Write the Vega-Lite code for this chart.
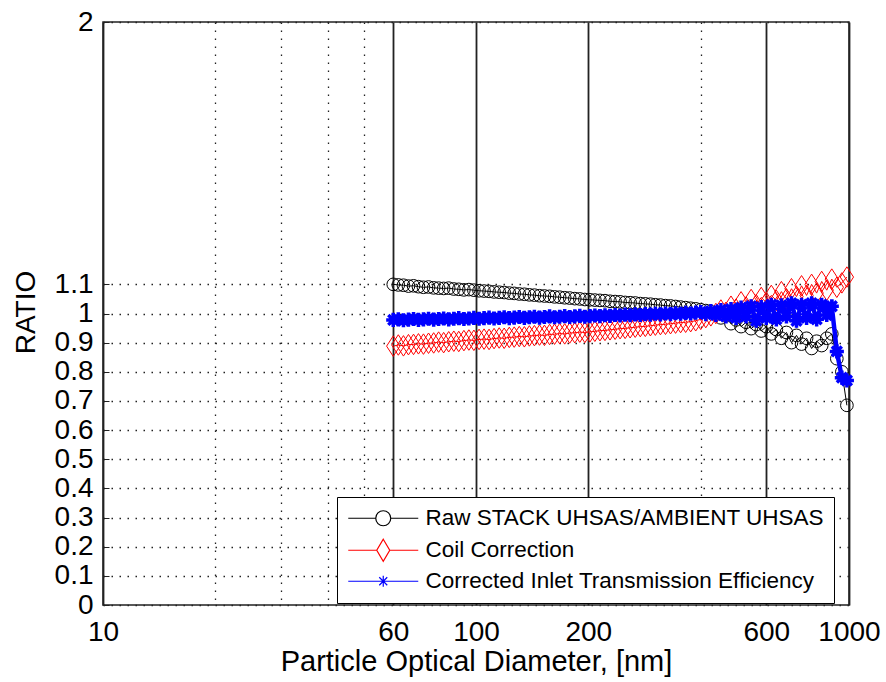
{
  "$schema": "https://vega.github.io/schema/vega-lite/v6.json",
  "width": 746,
  "height": 583,
  "autosize": {"type": "none"},
  "padding": {"left": 103, "top": 22, "right": 37, "bottom": 77},
  "background": "white",
  "config": {
    "view": {"stroke": "#222", "strokeWidth": 1.5},
    "font": "Liberation Sans",
    "axis": {"labelFont": "Liberation Sans", "titleFont": "Liberation Sans", "labelColor": "black", "titleColor": "black", "titleFontWeight": "normal", "domain": false, "labelFlush": false, "labelOverlap": false}
  },
  "data": {"values": [
    {"d": 60, "raw": 1.100, "coil": 0.888, "eff": 0.978},
    {"d": 61.9, "raw": 1.098, "coil": 0.892, "eff": 0.980},
    {"d": 63.9, "raw": 1.097, "coil": 0.889, "eff": 0.977},
    {"d": 65.9, "raw": 1.094, "coil": 0.893, "eff": 0.979},
    {"d": 68.0, "raw": 1.095, "coil": 0.894, "eff": 0.981},
    {"d": 70.1, "raw": 1.092, "coil": 0.896, "eff": 0.978},
    {"d": 72.3, "raw": 1.090, "coil": 0.895, "eff": 0.980},
    {"d": 74.6, "raw": 1.091, "coil": 0.898, "eff": 0.982},
    {"d": 77.0, "raw": 1.088, "coil": 0.899, "eff": 0.979},
    {"d": 79.4, "raw": 1.087, "coil": 0.902, "eff": 0.981},
    {"d": 81.9, "raw": 1.086, "coil": 0.900, "eff": 0.983},
    {"d": 84.5, "raw": 1.087, "coil": 0.903, "eff": 0.980},
    {"d": 87.2, "raw": 1.084, "coil": 0.905, "eff": 0.982},
    {"d": 89.9, "raw": 1.083, "coil": 0.904, "eff": 0.984},
    {"d": 92.8, "raw": 1.081, "coil": 0.907, "eff": 0.981},
    {"d": 95.7, "raw": 1.082, "coil": 0.909, "eff": 0.983},
    {"d": 98.7, "raw": 1.080, "coil": 0.908, "eff": 0.985},
    {"d": 101.9, "raw": 1.078, "coil": 0.911, "eff": 0.982},
    {"d": 105.1, "raw": 1.077, "coil": 0.912, "eff": 0.984},
    {"d": 108.4, "raw": 1.076, "coil": 0.911, "eff": 0.986},
    {"d": 111.8, "raw": 1.074, "coil": 0.914, "eff": 0.983},
    {"d": 115.4, "raw": 1.073, "coil": 0.916, "eff": 0.985},
    {"d": 119.0, "raw": 1.072, "coil": 0.915, "eff": 0.987},
    {"d": 122.8, "raw": 1.070, "coil": 0.918, "eff": 0.984},
    {"d": 126.6, "raw": 1.069, "coil": 0.919, "eff": 0.986},
    {"d": 130.6, "raw": 1.067, "coil": 0.921, "eff": 0.988},
    {"d": 134.8, "raw": 1.066, "coil": 0.920, "eff": 0.985},
    {"d": 139.0, "raw": 1.064, "coil": 0.923, "eff": 0.987},
    {"d": 143.4, "raw": 1.063, "coil": 0.924, "eff": 0.989},
    {"d": 148.0, "raw": 1.061, "coil": 0.926, "eff": 0.986},
    {"d": 152.6, "raw": 1.060, "coil": 0.925, "eff": 0.988},
    {"d": 157.5, "raw": 1.059, "coil": 0.928, "eff": 0.990},
    {"d": 162.4, "raw": 1.057, "coil": 0.929, "eff": 0.987},
    {"d": 167.6, "raw": 1.056, "coil": 0.931, "eff": 0.989},
    {"d": 172.9, "raw": 1.054, "coil": 0.930, "eff": 0.991},
    {"d": 178.3, "raw": 1.053, "coil": 0.933, "eff": 0.988},
    {"d": 184.0, "raw": 1.051, "coil": 0.934, "eff": 0.990},
    {"d": 189.8, "raw": 1.050, "coil": 0.936, "eff": 0.992},
    {"d": 195.8, "raw": 1.048, "coil": 0.935, "eff": 0.989},
    {"d": 202.0, "raw": 1.047, "coil": 0.937, "eff": 0.991},
    {"d": 208.3, "raw": 1.046, "coil": 0.939, "eff": 0.993},
    {"d": 214.9, "raw": 1.045, "coil": 0.941, "eff": 0.991},
    {"d": 221.7, "raw": 1.044, "coil": 0.942, "eff": 0.994},
    {"d": 228.7, "raw": 1.042, "coil": 0.944, "eff": 0.992},
    {"d": 236.0, "raw": 1.041, "coil": 0.946, "eff": 0.995},
    {"d": 243.4, "raw": 1.040, "coil": 0.948, "eff": 0.993},
    {"d": 251.1, "raw": 1.038, "coil": 0.949, "eff": 0.996},
    {"d": 259.0, "raw": 1.037, "coil": 0.951, "eff": 0.994},
    {"d": 267.2, "raw": 1.036, "coil": 0.953, "eff": 0.997},
    {"d": 275.7, "raw": 1.034, "coil": 0.955, "eff": 0.995},
    {"d": 284.4, "raw": 1.033, "coil": 0.956, "eff": 0.998},
    {"d": 293.4, "raw": 1.032, "coil": 0.958, "eff": 0.996},
    {"d": 302.6, "raw": 1.030, "coil": 0.960, "eff": 0.999},
    {"d": 312.2, "raw": 1.029, "coil": 0.962, "eff": 0.997},
    {"d": 322.1, "raw": 1.027, "coil": 0.963, "eff": 1.000},
    {"d": 332.3, "raw": 1.026, "coil": 0.965, "eff": 0.998},
    {"d": 342.8, "raw": 1.024, "coil": 0.967, "eff": 1.001},
    {"d": 353.6, "raw": 1.022, "coil": 0.969, "eff": 0.999},
    {"d": 364.8, "raw": 1.020, "coil": 0.970, "eff": 1.002},
    {"d": 376.3, "raw": 1.018, "coil": 0.972, "eff": 1.000},
    {"d": 388.2, "raw": 1.016, "coil": 0.975, "eff": 1.003},
    {"d": 400.4, "raw": 1.013, "coil": 0.980, "eff": 1.005},
    {"d": 413.1, "raw": 1.010, "coil": 0.986, "eff": 0.998},
    {"d": 426.2, "raw": 1.006, "coil": 0.992, "eff": 1.008},
    {"d": 439.6, "raw": 0.998, "coil": 1.000, "eff": 0.995},
    {"d": 453.5, "raw": 0.985, "coil": 1.012, "eff": 1.012},
    {"d": 467.8, "raw": 0.992, "coil": 1.004, "eff": 0.990},
    {"d": 482.6, "raw": 0.965, "coil": 1.025, "eff": 1.015},
    {"d": 497.9, "raw": 0.978, "coil": 1.015, "eff": 0.985},
    {"d": 513.6, "raw": 0.955, "coil": 1.040, "eff": 1.020},
    {"d": 529.8, "raw": 0.970, "coil": 1.022, "eff": 0.990},
    {"d": 546.6, "raw": 0.948, "coil": 1.048, "eff": 1.025},
    {"d": 563.9, "raw": 0.962, "coil": 1.030, "eff": 0.975},
    {"d": 581.7, "raw": 0.940, "coil": 1.055, "eff": 1.022},
    {"d": 600.1, "raw": 0.955, "coil": 1.038, "eff": 0.985},
    {"d": 619.0, "raw": 0.930, "coil": 1.062, "eff": 1.030},
    {"d": 638.6, "raw": 0.945, "coil": 1.045, "eff": 0.980},
    {"d": 658.8, "raw": 0.915, "coil": 1.075, "eff": 1.028},
    {"d": 679.6, "raw": 0.935, "coil": 1.050, "eff": 0.990},
    {"d": 701.1, "raw": 0.900, "coil": 1.085, "eff": 1.035},
    {"d": 723.2, "raw": 0.925, "coil": 1.058, "eff": 0.975},
    {"d": 746.1, "raw": 0.895, "coil": 1.095, "eff": 1.030},
    {"d": 769.6, "raw": 0.915, "coil": 1.062, "eff": 0.985},
    {"d": 794.0, "raw": 0.880, "coil": 1.100, "eff": 1.035},
    {"d": 819.0, "raw": 0.905, "coil": 1.070, "eff": 0.980},
    {"d": 844.9, "raw": 0.890, "coil": 1.110, "eff": 1.030},
    {"d": 871.6, "raw": 0.915, "coil": 1.080, "eff": 0.995},
    {"d": 899.2, "raw": 0.930, "coil": 1.118, "eff": 1.025},
    {"d": 927.6, "raw": 0.845, "coil": 1.090, "eff": 0.870},
    {"d": 956.9, "raw": 0.800, "coil": 1.105, "eff": 0.780},
    {"d": 987.1, "raw": 0.685, "coil": 1.125, "eff": 0.770}
  ]},
  "layer": [
    {
      "mark": {"type": "line", "color": "black", "strokeWidth": 1, "point": {"shape": "circle", "filled": false, "size": 160, "strokeWidth": 1, "color": "black"}},
      "encoding": {
        "x": {"field": "d", "type": "quantitative", "title": "Particle Optical Diameter, [nm]",
          "scale": {"type": "log", "domain": [10, 1000]},
          "axis": {
            "values": [10, 20, 30, 40, 50, 60, 100, 200, 400, 600, 1000],
            "format": "d",
            "labelExpr": "indexof([20,30,40,50,400], datum.value) >= 0 ? '' : datum.label",
            "grid": true,
            "gridColor": "#222",
            "gridDash": {"condition": {"test": "indexof([20,30,40,50,400], datum.value) >= 0", "value": [1.5, 6.5]}, "value": []},
            "gridWidth": {"condition": {"test": "indexof([20,30,40,50,400], datum.value) >= 0", "value": 1.3}, "value": 1.8},
            "ticks": false,
            "labelFontSize": 28,
            "labelPadding": 13,
            "titleFontSize": 29,
            "titleBaseline": "alphabetic",
            "titleY": 65
          }
        },
        "y": {"field": "raw", "type": "quantitative", "title": "RATIO",
          "scale": {"domain": [0, 2]},
          "axis": {
            "values": [0, 0.1, 0.2, 0.3, 0.4, 0.5, 0.6, 0.7, 0.8, 0.9, 1, 1.1, 2],
            "format": "~g",
            "grid": true,
            "gridColor": "#222",
            "gridDash": [1.5, 6.5],
            "gridWidth": 1.3,
            "ticks": true,
            "tickColor": "#222",
            "tickSize": -6,
            "labelFontSize": 28,
            "labelPadding": 16,
            "titleFontSize": 28,
            "titleAngle": -90,
            "titleAlign": "center",
            "titleBaseline": "middle",
            "titleX": -77,
            "titleY": 290
          }
        }
      }
    },
    {
      "mark": {"type": "line", "color": "red", "strokeWidth": 1, "point": {"shape": "M0,-1L0.65,0L0,1L-0.65,0Z", "filled": false, "size": 420, "strokeWidth": 1, "color": "red"}},
      "encoding": {
        "x": {"field": "d", "type": "quantitative", "title": "Particle Optical Diameter, [nm]"},
        "y": {"field": "coil", "type": "quantitative", "title": "RATIO"}
      }
    },
    {
      "mark": {"type": "line", "color": "blue", "strokeWidth": 4.5, "point": {"shape": "M-1,0L1,0M0,-1L0,1M-0.7,-0.7L0.7,0.7M-0.7,0.7L0.7,-0.7", "filled": false, "size": 200, "strokeWidth": 3.5, "color": "blue"}},
      "encoding": {
        "x": {"field": "d", "type": "quantitative", "title": "Particle Optical Diameter, [nm]"},
        "y": {"field": "eff", "type": "quantitative", "title": "RATIO"}
      }
    },
    {
      "transform": [{"filter": "datum.d == 60"}, {"fold": ["raw", "coil", "eff"]}],
      "mark": {"type": "point", "opacity": 0, "filled": false, "size": 400},
      "encoding": {
        "x": {"field": "d", "type": "quantitative", "title": "Particle Optical Diameter, [nm]"},
        "y": {"field": "value", "type": "quantitative", "title": "RATIO"},
        "color": {"field": "key", "type": "nominal",
          "scale": {"domain": ["raw", "coil", "eff"], "range": ["black", "red", "blue"]},
          "legend": {
            "title": null,
            "orient": "none",
            "legendX": 234,
            "legendY": 475,
            "direction": "vertical",
            "symbolSize": 400,
            "symbolOpacity": 1,
            "symbolFillColor": "transparent",
            "labelExpr": "datum.value == 'raw' ? 'Raw STACK UHSAS/AMBIENT UHSAS' : datum.value == 'coil' ? 'Coil Correction' : 'Corrected Inlet Transmission Efficiency'",
            "labelFontSize": 22.5,
            "labelFont": "Liberation Sans",
            "labelColor": "black",
            "labelOffset": 56,
            "labelLimit": 600,
            "strokeColor": "black",
            "fillColor": "white",
            "padding": 10,
            "rowPadding": 6,
            "offset": 0
          }
        },
        "shape": {"field": "key", "type": "nominal",
          "scale": {"domain": ["raw", "coil", "eff"], "range": [
            "M-1,0L1.75,0M3.25,0L6,0M1.75,0A0.75,0.75,0,1,1,3.25,0A0.75,0.75,0,1,1,1.75,0",
            "M-1,0L1.85,0M3.15,0L6,0M2.5,-1.1L3.15,0L2.5,1.1L1.85,0Z",
            "M-1,0L6,0M2.1,-0.4L2.9,0.4M2.1,0.4L2.9,-0.4M2.5,-0.55L2.5,0.55"
          ]}
        },
        "strokeWidth": {"field": "key", "type": "ordinal",
          "scale": {"domain": ["raw", "coil", "eff"], "range": [1.2, 1.2, 5]}
        }
      }
    }
  ]
}
